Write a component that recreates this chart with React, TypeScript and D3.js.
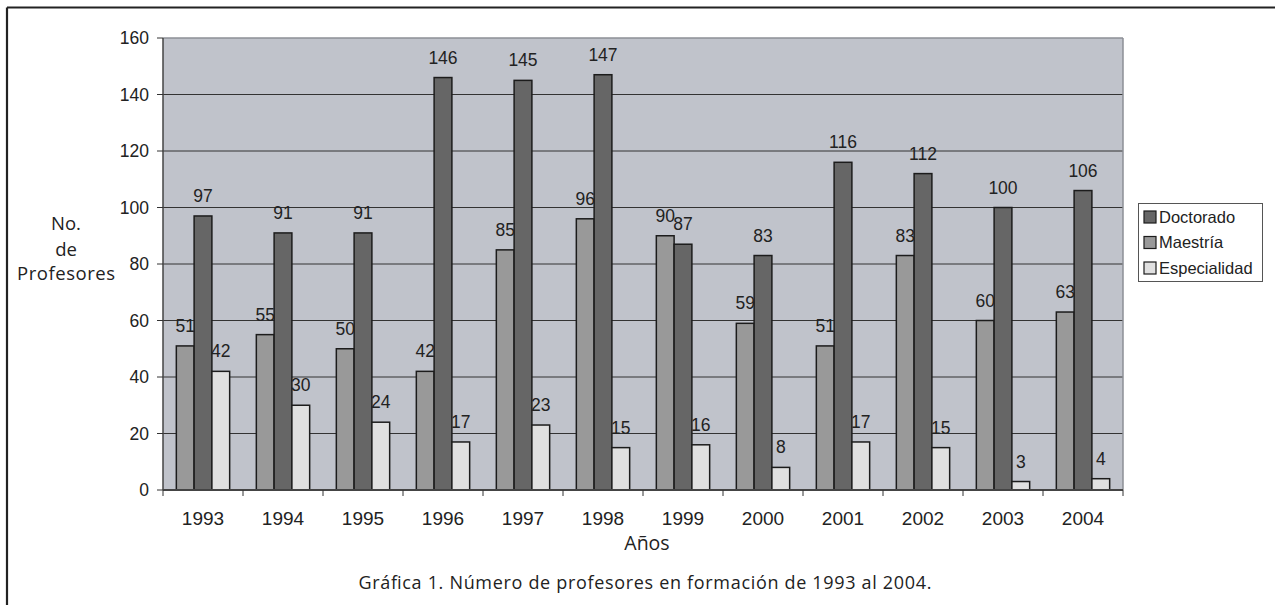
import React from "react";
import * as d3 from "d3";

const years = ["1993", "1994", "1995", "1996", "1997", "1998", "1999", "2000", "2001", "2002", "2003", "2004"];
const maestria = [51, 55, 50, 42, 85, 96, 90, 59, 51, 83, 60, 63];
const doctorado = [97, 91, 91, 146, 145, 147, 87, 83, 116, 112, 100, 106];
const especialidad = [42, 30, 24, 17, 23, 15, 16, 8, 17, 15, 3, 4];
const barOrder = ["Maestría", "Doctorado", "Especialidad"];
const legendOrder = ["Doctorado", "Maestría", "Especialidad"];
const yTicks = [0, 20, 40, 60, 80, 100, 120, 140, 160];

const seriesValues: Record<string, number[]> = {
  "Maestría": maestria,
  "Doctorado": doctorado,
  "Especialidad": especialidad,
};
const colors: Record<string, string> = {
  "Doctorado": "#666666",
  "Maestría": "#999999",
  "Especialidad": "#e0e0e0",
};

const W = 1275;
const H = 605;
const plot = { left: 163, right: 1123, top: 38, bottom: 490 };
const FONT = "'Liberation Sans', Arial, sans-serif";
const FONT2 = "'Open Sans', 'DejaVu Sans', sans-serif";

export default function App() {
  const x0 = d3.scaleBand<string>().domain(years).range([plot.left, plot.right]).paddingInner(0).paddingOuter(0);
  const x1 = d3
    .scaleBand<string>()
    .domain(barOrder)
    .range([0, x0.bandwidth()])
    .paddingInner(0)
    .paddingOuter(0.75);
  const y = d3.scaleLinear().domain([0, 160]).range([plot.bottom, plot.top]);
  const boundaries = years.map((yr) => x0(yr) as number).concat([plot.right]);

  return (
    <svg
      width={W}
      height={H}
      style={{ position: "absolute", left: 0, top: 0, background: "#fff" }}
    >
      <rect x={0} y={0} width={W} height={H} fill="#fff" />
      {/* outer frame (top & left visible) */}
      <line x1={7} y1={7.5} x2={W} y2={7.5} stroke="#222" strokeWidth={2.2} />
      <line x1={7} y1={7.5} x2={7} y2={H} stroke="#222" strokeWidth={2.2} />

      {/* plot background */}
      <rect
        x={plot.left}
        y={plot.top}
        width={plot.right - plot.left}
        height={plot.bottom - plot.top}
        fill="#c0c3cb"
      />
      {/* gridlines */}
      {yTicks
        .filter((t) => t > 0 && t < 160)
        .map((t) => (
          <line
            key={"g" + t}
            x1={plot.left}
            x2={plot.right}
            y1={y(t)}
            y2={y(t)}
            stroke="#333"
            strokeWidth={1}
          />
        ))}
      <line x1={plot.left} x2={plot.right} y1={plot.top} y2={plot.top} stroke="#8c8f96" strokeWidth={1.5} />
      <line x1={plot.right} x2={plot.right} y1={plot.top} y2={plot.bottom} stroke="#8c8f96" strokeWidth={1.5} />

      {/* bars */}
      {years.map((yr, i) =>
        barOrder.map((s) => {
          const v = seriesValues[s][i];
          const bx = (x0(yr) as number) + (x1(s) as number);
          return (
            <rect
              key={yr + s}
              x={bx}
              y={y(v)}
              width={x1.bandwidth()}
              height={y(0) - y(v)}
              fill={colors[s]}
              stroke="#1c1c1c"
              strokeWidth={1.5}
            />
          );
        })
      )}

      {/* value labels */}
      {years.map((yr, i) =>
        barOrder.map((s) => {
          const v = seriesValues[s][i];
          const cx = (x0(yr) as number) + (x1(s) as number) + x1.bandwidth() / 2;
          return (
            <text
              key={"l" + yr + s}
              x={cx}
              y={y(v) - 14}
              textAnchor="middle"
              fontFamily={FONT}
              fontSize={17.5}
              fill="#222"
            >
              {v}
            </text>
          );
        })
      )}

      {/* axes */}
      <line x1={plot.left} x2={plot.left} y1={plot.top} y2={plot.bottom} stroke="#444" strokeWidth={1.5} />
      <line x1={plot.left} x2={plot.right} y1={plot.bottom} y2={plot.bottom} stroke="#444" strokeWidth={2} />
      {yTicks.map((t) => (
        <g key={"yt" + t}>
          <line x1={plot.left - 6} x2={plot.left} y1={y(t)} y2={y(t)} stroke="#333" strokeWidth={1} />
          <text
            x={plot.left - 14}
            y={y(t)}
            dy="0.35em"
            textAnchor="end"
            fontFamily={FONT}
            fontSize={17.5}
            fill="#222"
          >
            {t}
          </text>
        </g>
      ))}
      {boundaries.map((bx, i) => (
        <line key={"xt" + i} x1={bx} x2={bx} y1={plot.bottom} y2={plot.bottom + 6} stroke="#333" strokeWidth={1} />
      ))}
      {years.map((yr) => (
        <text
          key={"xl" + yr}
          x={(x0(yr) as number) + x0.bandwidth() / 2}
          y={525}
          textAnchor="middle"
          fontFamily={FONT}
          fontSize={19}
          fill="#222"
        >
          {yr}
        </text>
      ))}

      {/* axis titles */}
      <text x={647} y={550} textAnchor="middle" fontFamily={FONT2} fontSize={19.5} fill="#222">
        Años
      </text>
      <text textAnchor="middle" fontFamily={FONT2} fontSize={18.5} fill="#222">
        <tspan x={66} y={230}>No.</tspan>
        <tspan x={66} y={256}>de</tspan>
        <tspan x={66} y={280} textLength={98} lengthAdjust="spacing">Profesores</tspan>
      </text>

      {/* caption */}
      <text
        x={645}
        y={589}
        textAnchor="middle"
        fontFamily={FONT2}
        fontSize={18}
        fill="#222"
        textLength={573}
        lengthAdjust="spacing"
      >
        Gráfica 1. Número de profesores en formación de 1993 al 2004.
      </text>

      {/* legend */}
      <rect x={1138.5} y={203.5} width={124} height={78} fill="#fff" stroke="#555" strokeWidth={1} />
      {legendOrder.map((s, i) => (
        <g key={"lg" + s}>
          <rect
            x={1144}
            y={211 + i * 25.5}
            width={12}
            height={12}
            fill={colors[s]}
            stroke="#1c1c1c"
            strokeWidth={1.2}
          />
          <text x={1159} y={217 + i * 25.5} dy="0.36em" fontFamily={FONT} fontSize={16.5} fill="#222">
            {s}
          </text>
        </g>
      ))}
    </svg>
  );
}
